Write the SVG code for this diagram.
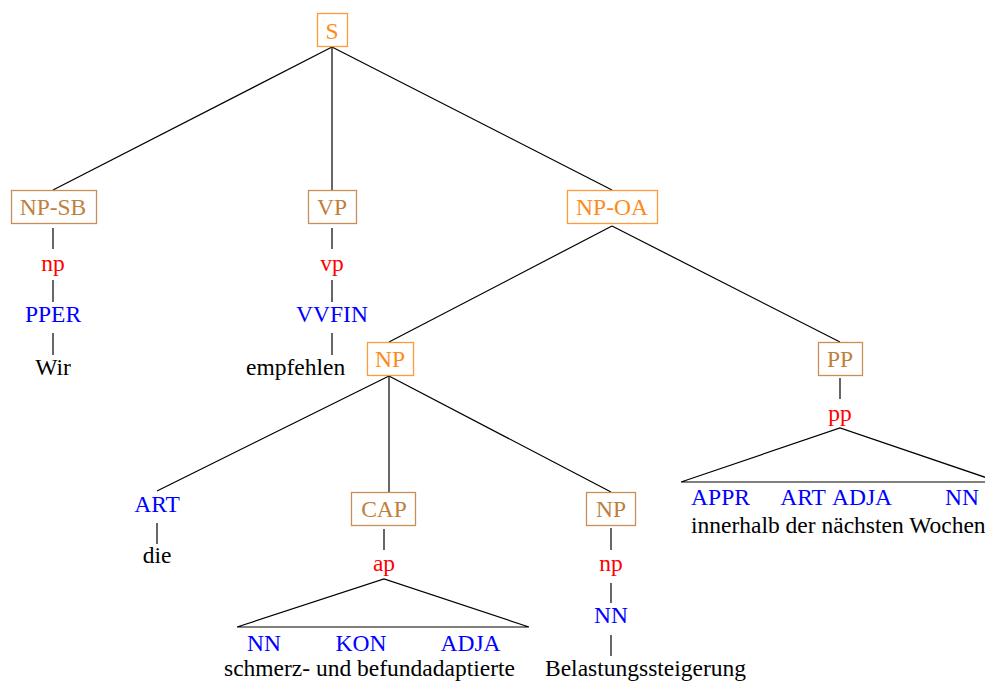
<svg xmlns="http://www.w3.org/2000/svg" width="985" height="682" viewBox="0 0 985 682" font-family="'Liberation Serif', 'Times New Roman', Times, serif">
<style>
text{font-family:'Liberation Serif','Times New Roman',Times,serif;font-size:23.5px;text-anchor:middle}
.o rect{fill:none;stroke:#ff9a3c;stroke-width:1.3}
.o text{fill:#ff8a1a}
.b rect{fill:none;stroke:#c98d55;stroke-width:1.3}
.b text{fill:#c07f3c}
.r{fill:#ff0000}
.t{fill:#0000ff}
.w{fill:#000}
.s{text-anchor:start}
#edges line,#edges polyline{stroke:#000;stroke-width:1.2;fill:none}
</style>
<g id="edges">
<line x1="332" y1="47" x2="53" y2="190"/>
<line x1="332" y1="47" x2="332" y2="190"/>
<line x1="332" y1="47" x2="612" y2="190"/>
<line x1="53" y1="228" x2="53" y2="249"/>
<line x1="53" y1="280" x2="53" y2="302"/>
<line x1="53" y1="333" x2="53" y2="355"/>
<line x1="332" y1="228" x2="332" y2="249"/>
<line x1="332" y1="280" x2="332" y2="302"/>
<line x1="332" y1="333" x2="332" y2="355"/>
<line x1="612" y1="226" x2="389" y2="342"/>
<line x1="612" y1="226" x2="840" y2="342"/>
<line x1="389" y1="376" x2="157" y2="491"/>
<line x1="389" y1="376" x2="389" y2="492"/>
<line x1="389" y1="376" x2="611" y2="492"/>
<line x1="840" y1="378" x2="840" y2="399"/>
<polyline points="681,482 840,428 999,482 681,482"/>
<line x1="157" y1="523" x2="157" y2="544"/>
<line x1="384" y1="529" x2="384" y2="550"/>
<polyline points="237,627 384,579 529,627 237,627"/>
<line x1="611" y1="528" x2="611" y2="550"/>
<line x1="611" y1="583" x2="611" y2="603"/>
<line x1="611" y1="635" x2="611" y2="656"/>
</g>
<g id="S" class="o"><rect x="317.5" y="13.5" width="30" height="33"/><text x="332" y="39">S</text></g>
<g id="NP-SB" class="b"><rect x="11.5" y="190.5" width="85" height="33"/><text x="53" y="215">NP-SB</text></g>
<g id="np1"><text class="r" x="53" y="271">np</text></g>
<g id="PPER"><text class="t" x="53" y="322">PPER</text></g>
<g id="Wir"><text class="w" x="53" y="375">Wir</text></g>
<g id="VP" class="b"><rect x="308.5" y="190.5" width="48" height="33"/><text x="332" y="215">VP</text></g>
<g id="vp"><text class="r" x="332" y="271">vp</text></g>
<g id="VVFIN"><text class="t" x="332" y="322">VVFIN</text></g>
<g id="empfehlen"><text class="w s" x="246" y="375">empfehlen</text></g>
<g id="NP-OA" class="o"><rect x="567.5" y="190.5" width="90" height="33"/><text x="612" y="215">NP-OA</text></g>
<g id="NP" class="o"><rect x="367.5" y="342.5" width="46" height="33"/><text x="390" y="367">NP</text></g>
<g id="PP" class="b"><rect x="818.5" y="342.5" width="44" height="33"/><text x="840" y="367">PP</text></g>
<g id="pp"><text class="r" x="840" y="421">pp</text></g>
<g id="pp-tags">
<text class="t" x="720.5" y="505">APPR</text>
<text class="t" x="803" y="505">ART</text>
<text class="t" x="862" y="505">ADJA</text>
<text class="t" x="962" y="505">NN</text>
</g>
<g id="pp-words"><text class="w s" x="691" y="533">innerhalb der nächsten Wochen</text></g>
<g id="ART"><text class="t" x="157" y="512">ART</text></g>
<g id="die"><text class="w" x="157" y="563">die</text></g>
<g id="CAP" class="b"><rect x="351.5" y="492.5" width="64" height="33"/><text x="384" y="517">CAP</text></g>
<g id="ap"><text class="r" x="384" y="571">ap</text></g>
<g id="ap-tags">
<text class="t" x="264" y="651">NN</text>
<text class="t" x="361" y="651">KON</text>
<text class="t" x="470.5" y="651">ADJA</text>
</g>
<g id="ap-words"><text class="w s" x="224" y="676">schmerz- und befundadaptierte</text></g>
<g id="NP2" class="b"><rect x="586.5" y="492.5" width="49" height="33"/><text x="611" y="517">NP</text></g>
<g id="np2"><text class="r" x="611" y="571">np</text></g>
<g id="NN"><text class="t" x="611" y="623">NN</text></g>
<g id="Belastungssteigerung"><text class="w s" x="545" y="676">Belastungssteigerung</text></g>
</svg>
